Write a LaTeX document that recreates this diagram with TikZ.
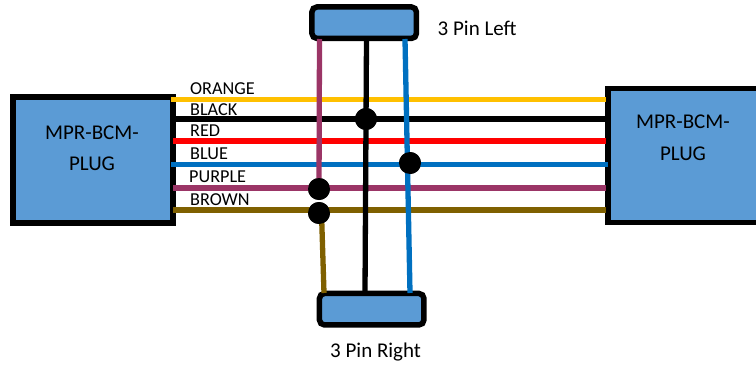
\documentclass[tikz,border=0pt]{standalone}
\usepackage{fontspec}
\setmainfont{Carlito}
\definecolor{boxblue}{HTML}{5B9BD5}
\definecolor{wOrange}{HTML}{FFC000}
\definecolor{wRed}{HTML}{FF0000}
\definecolor{wBlue}{HTML}{0070C0}
\definecolor{wPurple}{HTML}{9B3566}
\definecolor{wBrown}{HTML}{7F6000}
\tikzset{
  plugbox/.style={draw=black,fill=boxblue,line width=5.5pt,minimum width=0pt,inner sep=0pt},
  pinbox/.style={plugbox,rounded corners=5pt},
  wire/.style={line width=5.3pt},
  joint/.style={circle,fill=black,draw=none,minimum size=22pt,inner sep=0pt},
  wirelabel/.style={anchor=base west,inner sep=0pt,font=\fontsize{18.2}{21}\selectfont},
  boxlabel/.style={anchor=base,inner sep=0pt,font=\fontsize{21}{25}\selectfont}
}
\begin{document}
\begin{tikzpicture}[x=1pt,y=-1pt]
\useasboundingbox (0,0) rectangle (756,367);
\clip (0,0) rectangle (756,367);
% boxes
\node[plugbox,minimum width=160pt,minimum height=126pt] (L) at (93,160) {};
\node[plugbox,minimum width=170pt,minimum height=134pt,anchor=west] (R) at (605,155.5) {};
\node[pinbox,minimum width=104.5pt,minimum height=31.5pt] (T) at (364.2,22.7) {};
\node[pinbox,minimum width=104.5pt,minimum height=31.5pt] (B) at (371.7,309.2) {};
% joints
\node[joint] (J1) at (366,119) {};
\node[joint] (J2) at (410,163) {};
\node[joint] (J3) at (319,189) {};
\node[joint] (J4) at (319,213) {};
% wire ends
\foreach \n/\xa/\xb/\y in {o/171/606/99.5,k/172/606/119,r/173/606/141,b/171/608/164.5,p/173/606/188,n/173/606/210}{
  \coordinate (\n L) at (\xa,\y);
  \coordinate (\n R) at (\xb,\y);
}
\coordinate (tp) at (319.5,39);
\coordinate (tk) at (366.5,39);
\coordinate (tb) at (405,39);
\coordinate (sn) at (321.5,213);
\coordinate (bn) at (324,293);
\coordinate (bk) at (365,293);
\coordinate (bb) at (410,293);
% horizontal wires
\draw[wire,wOrange] (oL) -- (oR);
\draw[wire,black] (kL) -- (kR);
\draw[wire,wRed] (rL) -- (rR);
\draw[wire,wBlue] (bL) -- (bR);
\draw[wire,wPurple] (pL) -- (pR);
\draw[wire,wBrown] (nL) -- (nR);
% vertical wires
\draw[wire,wPurple] (tp) -- (J3.center);
\draw[wire,wBrown] (sn) -- (bn);
\draw[wire,black] (tk) -- (bk);
\draw[wire,wBlue] (tb) -- (bb);
% joints on top
\node[joint] at (J1) {};
\node[joint] at (J2) {};
\node[joint] at (J3) {};
\node[joint] at (J4) {};
% labels
\node[wirelabel] (lo) at (190,94) {ORANGE};
\node[wirelabel] (lk) at (190,115) {BLACK};
\node[wirelabel] (lr) at (190,136.7) {RED};
\node[wirelabel] (lb) at (190,159) {BLUE};
\node[wirelabel] (lp) at (189,182.7) {PURPLE};
\node[wirelabel] (ln) at (190,205) {BROWN};
\node[boxlabel] (l1) at (92,139.5) {MPR-BCM-};
\node[boxlabel] (l2) at (92,170.5) {PLUG};
\node[boxlabel] (r1) at (683,128.5) {MPR-BCM-};
\node[boxlabel] (r2) at (683,160) {PLUG};
\node[boxlabel,anchor=base west] (tl) at (437.5,35.5) {3 Pin Left};
\node[boxlabel,anchor=base west] (bl) at (330,357) {3 Pin Right};
\end{tikzpicture}
\end{document}
